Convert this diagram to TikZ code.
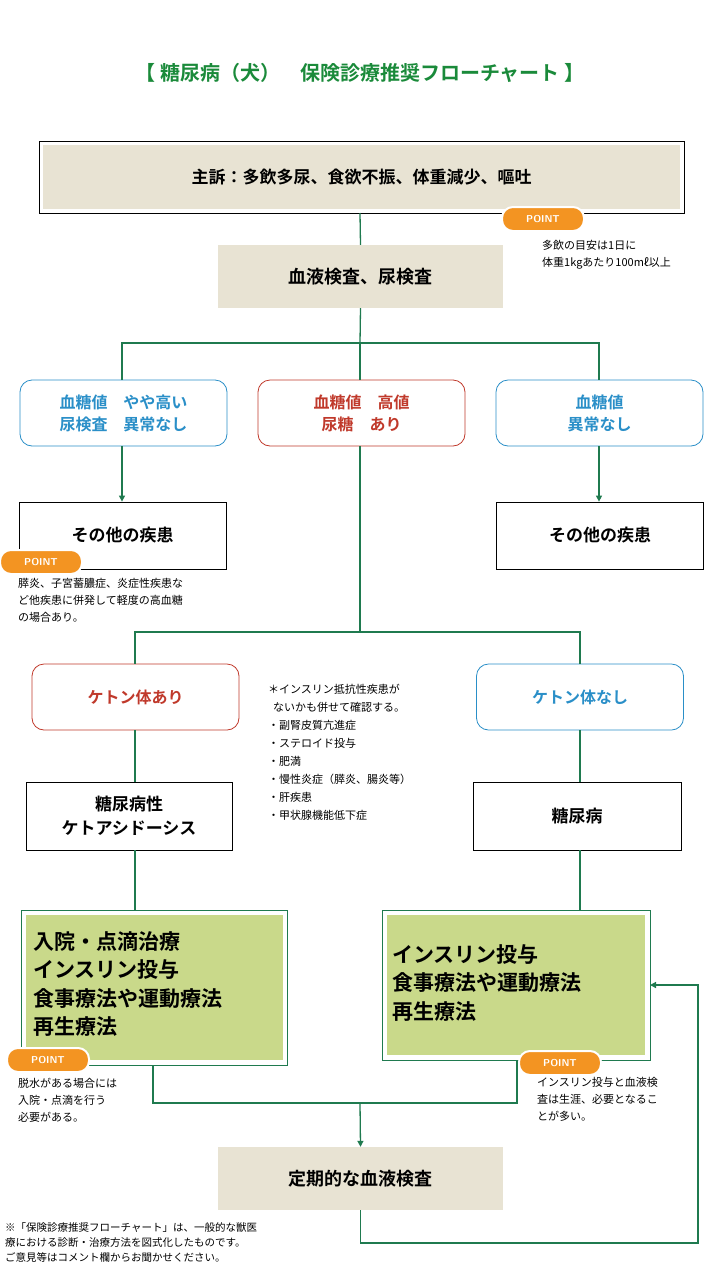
\documentclass[tikz,border=0pt]{standalone}
\usepackage{fontspec}
\setmainfont{Noto Sans CJK JP}
\newfontfamily\cjkb{Noto Sans CJK JP Bold}
\usetikzlibrary{arrows.meta}
\definecolor{lineg}{HTML}{1F7A4F}
\definecolor{titleg}{HTML}{1A8A3A}
\definecolor{beige}{HTML}{E8E3D3}
\definecolor{leaf}{HTML}{C9D98A}
\definecolor{orng}{HTML}{F39422}
\definecolor{bluec}{HTML}{2A8FC8}
\definecolor{redc}{HTML}{C0392B}
\tikzset{
  link/.style={draw=lineg, line width=1.3pt},
  arr/.style={link, -{Triangle[length=6pt,width=6pt]}},
  stage/.style={fill=beige, minimum width=285pt, minimum height=63pt, font=\cjkb\fontsize{18}{18}\selectfont},
  rbox/.style={draw=#1, rounded corners=12pt, line width=0.8pt, fill=white, minimum width=207pt, minimum height=66pt, align=center, text=#1, font=\cjkb\fontsize{16}{22}\selectfont},
  plain/.style={draw=black, line width=0.8pt, fill=white, minimum width=207pt, minimum height=67pt, align=center, font=\cjkb\fontsize{17}{24}\selectfont},
  point/.style={fill=orng, draw=white, line width=2pt, rounded corners=11pt, minimum width=82pt, minimum height=24pt, text=white, font=\sffamily\bfseries\fontsize{10}{10}\selectfont},
  note/.style={anchor=north west, align=left, inner sep=0pt, font=\fontsize{11}{17}\selectfont},
  care/.style={anchor=west, align=left, inner sep=0pt, font=\cjkb\fontsize{21}{28.5}\selectfont}
}
\begin{document}
\begin{tikzpicture}[x=1pt, y=-1pt]
\useasboundingbox (0,0) rectangle (720,1280);
\node[text=titleg, font=\cjkb\fontsize{20}{20}\selectfont] (title) at (360,73) {【\ 糖尿病（犬）\quad 保険診療推奨フローチャート\ 】};

\draw[line width=0.8pt] (39,141) rectangle (684,213);
\node[fill=beige, minimum width=637pt, minimum height=64pt, font=\cjkb\fontsize{17}{17}\selectfont] (sym) at (361.5,177) {主訴：多飲多尿、食欲不振、体重減少、嘔吐};
\node[point] (p1) at (543,219) {POINT};
\node[note] (n1) at (542,240) {多飲の目安は1日に\\体重1kgあたり100mℓ以上};

\node[stage] (exam) at (360.5,276.5) {血液検査、尿検査};
\draw[link] (360,213) -- (exam.north);

\node[rbox=bluec] (bl) at (123.5,413) {血糖値\quad やや高い\\尿検査\quad 異常なし};
\node[rbox=redc] (bm) at (361.5,413) {血糖値\quad 高値\\尿糖\quad あり};
\node[rbox=bluec] (br) at (599.5,413) {血糖値\\異常なし};
\draw[link] (exam.south) -- (360,343);
\draw[link] (bl.north -| 122,0) |- (360,343) -| (br.north -| 599,0);
\draw[link] (360,343) -- (bm.north -| 360,0);

\node[plain] (ol) at (122.5,535.5) {その他の疾患};
\node[plain] (or) at (600,535.5) {その他の疾患};
\draw[arr] (bl.south -| 122,0) -- (ol.north -| 122,0);
\draw[arr] (br.south -| 599,0) -- (or.north -| 599,0);
\node[point] (p2) at (41,562) {POINT};
\node[note] (n2) at (18,578) {膵炎、子宮蓄膿症、炎症性疾患な\\ど他疾患に併発して軽度の高血糖\\の場合あり。};

\node[rbox=redc] (kl) at (135.5,697) {ケトン体あり};
\node[rbox=bluec] (kr) at (580,697) {ケトン体なし};
\draw[link] (bm.south -| 360,0) -- (360,632);
\draw[link] (kl.north -| 135,0) |- (360,632) -| (kr.north -| 580,0);
\node[note, font=\fontsize{11}{18}\selectfont] (n3) at (268,684) {＊インスリン抵抗性疾患が\\\ \ ないかも併せて確認する。\\・副腎皮質亢進症\\・ステロイド投与\\・肥満\\・慢性炎症（膵炎、腸炎等）\\・肝疾患\\・甲状腺機能低下症};

\node[plain, minimum width=206pt, minimum height=68pt] (dka) at (129,816) {糖尿病性\\ケトアシドーシス};
\node[plain, minimum width=208pt, minimum height=68pt] (dm) at (577,816) {糖尿病};
\draw[link] (kl.south -| 135,0) -- (dka.north -| 135,0);
\draw[link] (kr.south -| 580,0) -- (dm.north -| 580,0);

\draw[draw=lineg, line width=0.8pt] (21,910) rectangle (287,1065);
\fill[leaf] (26,915) rectangle (283,1060);
\node[care] (cl) at (33,984) {入院・点滴治療\\インスリン投与\\食事療法や運動療法\\再生療法};
\draw[draw=lineg, line width=0.8pt] (382,910) rectangle (650,1060);
\fill[leaf] (387,915) rectangle (645,1055);
\node[care] (cr) at (392,983) {インスリン投与\\食事療法や運動療法\\再生療法};
\coordinate (gl) at (135,910);
\coordinate (gr) at (580,910);
\draw[link] (dka.south -| 135,0) -- (gl);
\draw[link] (dm.south -| 580,0) -- (gr);

\node[point] (p3) at (48,1060) {POINT};
\node[note] (n4) at (18,1078) {脱水がある場合には\\入院・点滴を行う\\必要がある。};
\node[point] (p4) at (560,1063) {POINT};
\node[note] (n5) at (537,1077) {インスリン投与と血液検\\査は生涯、必要となるこ\\とが多い。};

\node[stage] (reg) at (360.5,1178.5) {定期的な血液検査};
\coordinate (al) at (153,1065);
\coordinate (ar) at (517,1060);
\draw[link] (al) |- (360,1103) -| (ar);
\draw[arr] (360,1103) -- (reg.north);
\coordinate (back) at (650,985);
\draw[arr] (reg.south) |- (698,1243) |- (back);

\node[note, font=\fontsize{10.5}{15}\selectfont] (foot) at (5,1222) {※「保険診療推奨フローチャート」は、一般的な獣医\\療における診断・治療方法を図式化したものです。\\ご意見等はコメント欄からお聞かせください。};
\end{tikzpicture}
\end{document}
